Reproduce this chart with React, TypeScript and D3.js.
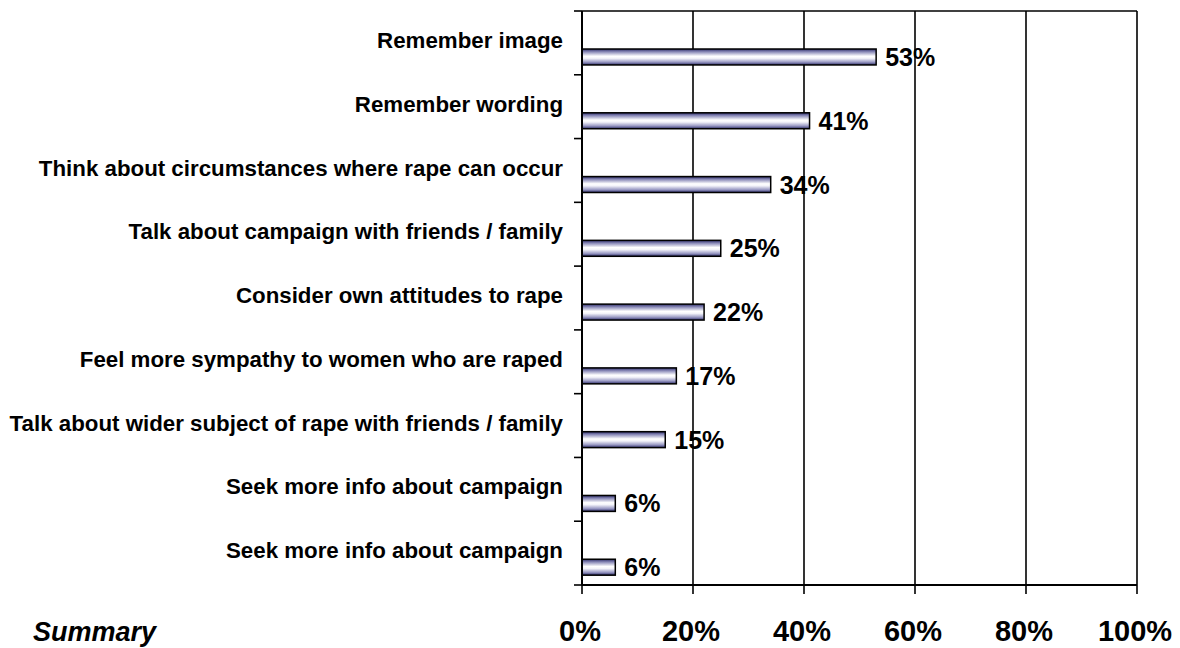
import React from "react";
import * as d3 from "d3";

const categories = [
  "Remember image",
  "Remember wording",
  "Think about circumstances where rape can occur",
  "Talk about campaign with friends / family",
  "Consider own attitudes to rape",
  "Feel more sympathy to women who are raped",
  "Talk about wider subject of rape with friends / family",
  "Seek more info about campaign",
  "Seek more info about campaign",
];
const values = [53, 41, 34, 25, 22, 17, 15, 6, 6];
const xTicks = [0, 20, 40, 60, 80, 100];

const W = 1180;
const H = 648;
const left = 582;
const right = 1137;
const top = 11;
const bottom = 585;

export default function App() {
  const x = d3.scaleLinear().domain([0, 100]).range([left, right]);
  const y = d3
    .scaleBand<number>()
    .domain(categories.map((_, i) => i))
    .range([top, bottom])
    .padding(0);
  const bw = y.bandwidth();
  const boundaries = d3.range(categories.length + 1).map((i) => top + i * bw);
  const font = "Arial, 'Liberation Sans', Helvetica, sans-serif";

  return (
    <svg
      width={W}
      height={H}
      style={{ position: "absolute", left: 0, top: 0, background: "#fff" }}
      fontFamily={font}
    >
      <defs>
        <linearGradient id="barGrad" x1="0" y1="0" x2="0" y2="1">
          <stop offset="0%" stopColor="#2e2e6a" />
          <stop offset="18%" stopColor="#8a8ab8" />
          <stop offset="45%" stopColor="#ffffff" />
          <stop offset="58%" stopColor="#f4f4fa" />
          <stop offset="82%" stopColor="#9a9ac4" />
          <stop offset="100%" stopColor="#2e2e6a" />
        </linearGradient>
      </defs>

      {/* gridlines */}
      {xTicks.slice(1).map((t) => (
        <line key={"g" + t} x1={x(t)} x2={x(t)} y1={top} y2={bottom} stroke="#000" strokeWidth={1.6} />
      ))}
      {/* top border */}
      <line x1={left} x2={right} y1={top} y2={top} stroke="#000" strokeWidth={1.6} />

      {/* bars */}
      {values.map((v, i) => (
        <rect
          key={"b" + i}
          x={x(0)}
          y={(y(i) as number) + bw * 0.596}
          width={x(v) - x(0)}
          height={bw * 0.25}
          fill="url(#barGrad)"
          stroke="#000"
          strokeWidth={1.5}
        />
      ))}

      {/* axes */}
      <line x1={left} x2={left} y1={top} y2={bottom} stroke="#000" strokeWidth={2} />
      <line x1={left} x2={right} y1={bottom} y2={bottom} stroke="#000" strokeWidth={2} />
      {boundaries.map((b, i) => (
        <line key={"yt" + i} x1={left - 8} x2={left} y1={b} y2={b} stroke="#000" strokeWidth={1.6} />
      ))}
      {xTicks.map((t) => (
        <line key={"xt" + t} x1={x(t)} x2={x(t)} y1={bottom} y2={bottom + 9} stroke="#000" strokeWidth={1.6} />
      ))}

      {/* category labels */}
      {categories.map((c, i) => (
        <text
          key={"c" + i}
          x={563}
          y={(y(i) as number) + 37}
          textAnchor="end"
          fontSize={22.3}
          fontWeight="bold"
          fill="#000"
        >
          {c}
        </text>
      ))}

      {/* value labels */}
      {values.map((v, i) => (
        <text
          key={"v" + i}
          x={x(v) + 9}
          y={(y(i) as number) + bw * 0.596 + bw * 0.125 + 9}
          fontSize={25}
          fontWeight="bold"
          fill="#000"
        >
          {v + "%"}
        </text>
      ))}

      {/* x tick labels */}
      {xTicks.map((t) => (
        <text key={"xl" + t} x={x(t) - 2} y={641} textAnchor="middle" fontSize={29} fontWeight="bold" fill="#000">
          {t + "%"}
        </text>
      ))}

      <text x={33} y={641} fontSize={27} fontWeight="bold" fontStyle="italic" fill="#000">
        Summary
      </text>
    </svg>
  );
}
